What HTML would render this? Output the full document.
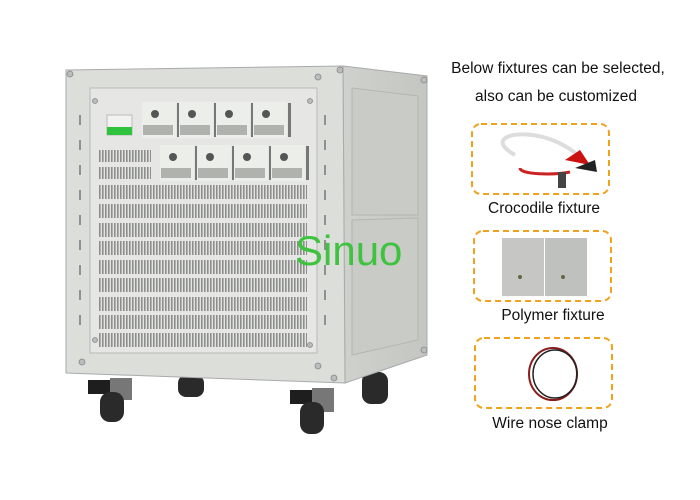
<!DOCTYPE html>
<html><head><meta charset="utf-8"><style>
html,body{margin:0;padding:0;background:#fff;width:700px;height:500px;overflow:hidden}
svg{display:block}
</style></head><body>
<svg width="700" height="500" viewBox="0 0 700 500" xmlns="http://www.w3.org/2000/svg">
<defs>
<pattern id="sl" width="3" height="10" patternUnits="userSpaceOnUse">
<rect width="3" height="10" fill="#e4e5e2"/><rect width="1.6" height="10" fill="#8d8f8c"/>
</pattern>
<linearGradient id="side" x1="0" x2="1"><stop offset="0" stop-color="#cfd1cd"/><stop offset="1" stop-color="#c4c6c2"/></linearGradient>
</defs>
<g fill="#2a2a2a">
<rect x="178" y="375" width="26" height="22" rx="8"/>
<rect x="362" y="372" width="26" height="32" rx="9"/>
</g>
<polygon points="343,66 427,76 427,355 345,383" fill="url(#side)" stroke="#aaa"/>
<polygon points="352,88 418,96 418,215 352,215" fill="#c9cbc7" stroke="#b4b6b2"/>
<polygon points="352,220 418,218 418,340 352,355" fill="#c9cbc7" stroke="#b4b6b2"/>
<polygon points="66,70 343,66 345,383 66,373" fill="#dcdeda" stroke="#aaa"/>
<rect x="90" y="88" width="227" height="265" fill="#e6e7e4" stroke="#b8bab6"/>
<g fill="#bbb" stroke="#888" stroke-width="0.8">
<circle cx="70" cy="74" r="3"/><circle cx="318" cy="77" r="3"/><circle cx="340" cy="70" r="3"/><circle cx="424" cy="80" r="3"/>
<circle cx="82" cy="362" r="3"/><circle cx="318" cy="366" r="3"/><circle cx="334" cy="378" r="3"/><circle cx="424" cy="350" r="3"/>
<circle cx="95" cy="101" r="2.5"/><circle cx="310" cy="101" r="2.5"/><circle cx="95" cy="340" r="2.5"/><circle cx="310" cy="345" r="2.5"/>
</g>
<g stroke="#777" stroke-width="1.5">
<line x1="80" y1="115" x2="80" y2="125"/><line x1="80" y1="140" x2="80" y2="150"/><line x1="80" y1="165" x2="80" y2="175"/><line x1="80" y1="190" x2="80" y2="200"/><line x1="80" y1="215" x2="80" y2="225"/><line x1="80" y1="240" x2="80" y2="250"/><line x1="80" y1="265" x2="80" y2="275"/><line x1="80" y1="290" x2="80" y2="300"/><line x1="80" y1="315" x2="80" y2="325"/>
<line x1="325" y1="115" x2="325" y2="125"/><line x1="325" y1="140" x2="325" y2="150"/><line x1="325" y1="165" x2="325" y2="175"/><line x1="325" y1="190" x2="325" y2="200"/><line x1="325" y1="215" x2="325" y2="225"/><line x1="325" y1="240" x2="325" y2="250"/><line x1="325" y1="265" x2="325" y2="275"/><line x1="325" y1="290" x2="325" y2="300"/><line x1="325" y1="315" x2="325" y2="325"/>
</g>
<rect x="107" y="115" width="25" height="20" fill="#f2f2f0" stroke="#bbb"/>
<rect x="107" y="127" width="25" height="8" fill="#2fc23c"/>
<rect x="99" y="150" width="52" height="12" fill="url(#sl)"/>
<rect x="99" y="167" width="52" height="12" fill="url(#sl)"/>
<g id="m">
<rect x="142" y="102" width="34" height="36" fill="#eceeea"/>
<circle cx="155" cy="114" r="4" fill="#555"/>
<rect x="143" y="125" width="30" height="10" fill="#b0b2ae"/>
<rect x="177" y="103" width="3" height="34" fill="#777"/>
</g>
<use href="#m" x="37"/><use href="#m" x="74"/><use href="#m" x="111"/>
<use href="#m" x="18" y="43"/><use href="#m" x="55" y="43"/><use href="#m" x="92" y="43"/><use href="#m" x="129" y="43"/>
<g fill="url(#sl)">
<rect x="99" y="185" width="208" height="14"/><rect x="99" y="204" width="208" height="14"/><rect x="99" y="223" width="208" height="14"/><rect x="99" y="241" width="208" height="14"/><rect x="99" y="260" width="208" height="14"/><rect x="99" y="278" width="208" height="14"/><rect x="99" y="297" width="208" height="14"/><rect x="99" y="315" width="208" height="14"/><rect x="99" y="333" width="208" height="14"/>
</g>
<g>
<rect x="88" y="380" width="40" height="14" fill="#1e1e1e"/><rect x="110" y="378" width="22" height="22" fill="#777"/>
<rect x="100" y="392" width="24" height="30" rx="10" fill="#2a2a2a"/>
<rect x="290" y="390" width="40" height="14" fill="#1e1e1e"/><rect x="312" y="388" width="22" height="24" fill="#777"/>
<rect x="300" y="402" width="24" height="32" rx="10" fill="#2a2a2a"/>
</g>
<text x="295" y="265" font-family="Liberation Sans, sans-serif" font-size="42" fill="#3fc23f">Sinuo</text>
<g font-family="Liberation Sans, sans-serif" font-size="15.5" fill="#111" text-anchor="middle">
<text x="558" y="73">Below fixtures can be selected,</text>
<text x="556" y="101">also can be customized</text>
<text x="544" y="213">Crocodile fixture</text>
<text x="553" y="320">Polymer fixture</text>
<text x="550" y="428">Wire nose clamp</text>
</g>
<g fill="none" stroke="#f0a21e" stroke-width="2" stroke-dasharray="6,4">
<rect x="472" y="124" width="137" height="70" rx="9"/>
<rect x="474" y="231" width="137" height="70" rx="9"/>
<rect x="475" y="338" width="137" height="70" rx="9"/>
</g>
<path d="M515,155 C470,130 560,120 590,170" fill="none" stroke="#ddd" stroke-width="4"/>
<path d="M520,168 C520,175 555,175 570,172" stroke="#c22" stroke-width="3" fill="none"/>
<path d="M565,160 l15,-10 l10,15 z" fill="#c11"/><path d="M575,168 l20,-8 l2,12 z" fill="#222"/>
<rect x="558" y="172" width="8" height="16" fill="#444"/>
<rect x="502" y="238" width="42" height="58" fill="#c6c7c5"/>
<rect x="545" y="238" width="42" height="58" fill="#bfc1be"/>
<circle cx="520" cy="277" r="2" fill="#664"/><circle cx="563" cy="277" r="2" fill="#664"/>
<ellipse cx="553" cy="374" rx="24" ry="26" fill="none" stroke="#8a1c1c" stroke-width="2"/>
<ellipse cx="555" cy="374" rx="22" ry="24" fill="none" stroke="#222" stroke-width="1.5"/>
</svg>
</body></html>
